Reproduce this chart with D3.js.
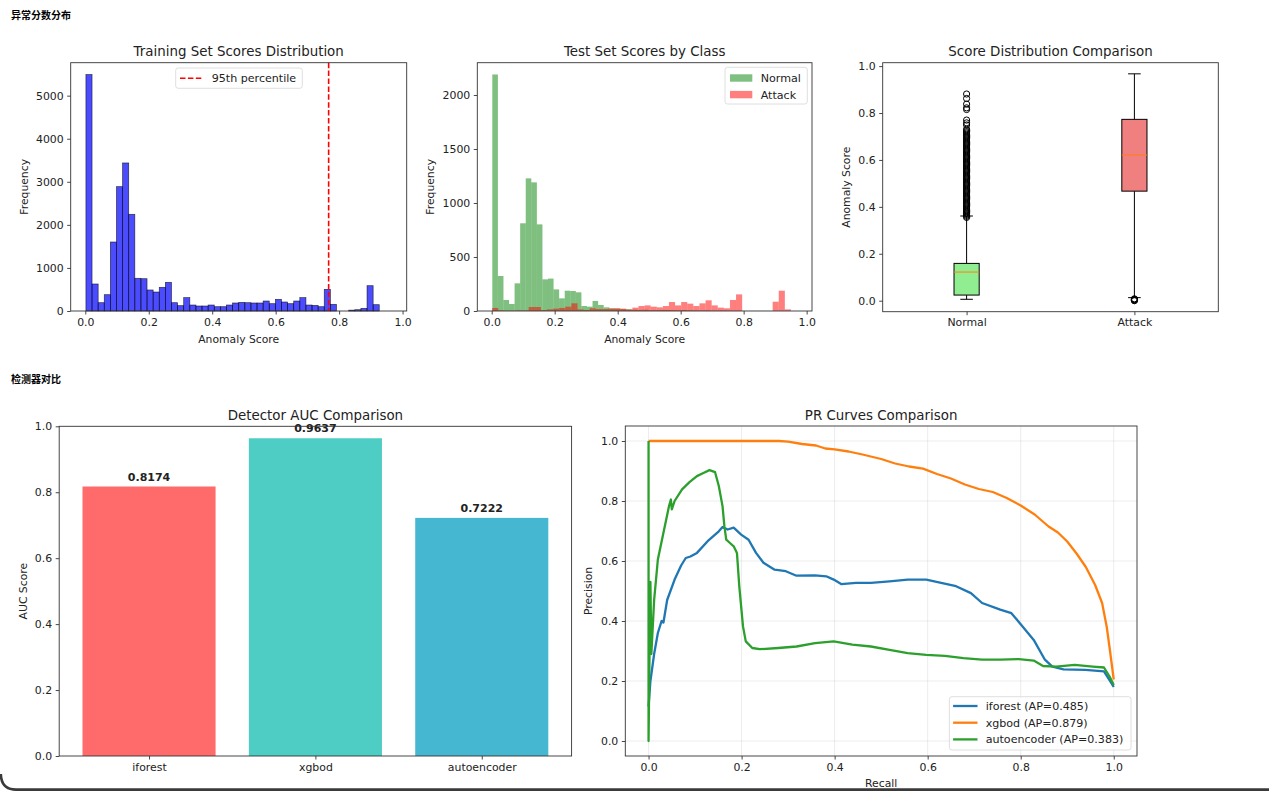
<!DOCTYPE html>
<head>
<meta charset="utf-8">
<title>异常分数分布</title>
<script src="https://d3js.org/d3.v7.min.js"></script>
<style>
    body { margin: 0; background: #fff; }
    svg text { font-family: 'DejaVu Sans', sans-serif; fill: #222; }
    .hdr { font-family: 'Noto Sans CJK SC', sans-serif !important; font-weight: bold; font-size: 10px; fill: #000 !important; }
    .spine { fill: none; stroke: #333; stroke-width: 0.9; }
    .tick line { stroke: #333; stroke-width: 0.9; }
    .domain { display: none; }
</style>
</head>
<body>
<script>
//DATA
var trainRange = [0.002, 0.965];
var trainCounts = [5490, 627, 193, 379, 1602, 2887, 3437, 2245, 759, 750,
                   488, 441, 550, 666, 193, 124, 310, 139, 116, 116,
                   139, 100, 100, 139, 186, 200, 193, 186, 186, 232,
                   170, 271, 209, 170, 232, 310, 139, 131, 100, 503,
                   155, 0, 0, 20, 30, 62, 588, 147, 0, 0];
var pct95 = 0.767;

var normalRange = [0.002, 0.886];
var normalCounts = [2190, 324, 102, 65, 256, 812, 1228, 1191, 802, 293,
                    300, 200, 117, 188, 185, 173, 46, 40, 93, 56,
                    34, 25, 22, 18, 15, 12, 10, 12, 8, 8,
                    10, 9, 7, 6, 8, 6, 5, 4, 5, 3,
                    3, 4, 2, 2, 2, 1, 1, 1, 1, 1];
var attackRange = [0.0013, 0.9695];
var attackCounts = [28, 5, 3, 3, 5, 5, 37, 37, 9, 15,
                    22, 28, 40, 71, 15, 9, 25, 18, 18, 22,
                    25, 22, 15, 31, 46, 52, 40, 34, 46, 83,
                    52, 83, 68, 46, 71, 99, 52, 31, 25, 102,
                    154, 0, 0, 0, 0, 0, 86, 188, 15, 0];

var boxCats = ['Normal', 'Attack'];
var boxLow = [0.006, 0.013];
var boxQ1 = [0.024, 0.467];
var boxMed = [0.122, 0.621];
var boxQ3 = [0.159, 0.773];
var boxHigh = [0.361, 0.967];
var normalFliers = [0.355, 0.36, 0.365, 0.37, 0.375, 0.38, 0.385, 0.39, 0.395, 0.40,
                    0.405, 0.41, 0.415, 0.42, 0.425, 0.43, 0.435, 0.44, 0.445, 0.45,
                    0.455, 0.46, 0.465, 0.47, 0.475, 0.48, 0.485, 0.49, 0.495, 0.50,
                    0.505, 0.51, 0.515, 0.52, 0.525, 0.53, 0.535, 0.54, 0.545, 0.55,
                    0.555, 0.56, 0.565, 0.57, 0.575, 0.58, 0.585, 0.59, 0.595, 0.60,
                    0.605, 0.61, 0.615, 0.62, 0.625, 0.63, 0.635, 0.64, 0.645, 0.65,
                    0.655, 0.66, 0.665, 0.67, 0.675, 0.68, 0.685, 0.69, 0.695, 0.70,
                    0.705, 0.71, 0.715, 0.72, 0.725, 0.731, 0.749, 0.758, 0.770,
                    0.815, 0.822, 0.838, 0.862, 0.881];
var attackFliers = [0.0, 0.002, 0.004, 0.006, 0.008];

var detectors = ['iforest', 'xgbod', 'autoencoder'];
var aucScores = [0.8174, 0.9637, 0.7222];
var apScores = [0.485, 0.879, 0.383];

var iforestPR = [[0,0.115],[0.004,0.2],[0.012,0.29],[0.02,0.36],[0.028,0.40],[0.032,0.395],[0.04,0.47],
    [0.056,0.538],[0.07,0.585],[0.08,0.61],[0.09,0.615],[0.104,0.627],[0.127,0.666],[0.151,0.699],
    [0.159,0.713],[0.17,0.705],[0.183,0.711],[0.199,0.688],[0.215,0.671],[0.231,0.627],[0.247,0.594],
    [0.271,0.571],[0.295,0.566],[0.318,0.551],[0.358,0.552],[0.382,0.549],[0.398,0.538],[0.414,0.523],
    [0.446,0.527],[0.478,0.527],[0.518,0.532],[0.557,0.538],[0.597,0.538],[0.629,0.527],[0.661,0.516],
    [0.693,0.493],[0.717,0.46],[0.756,0.438],[0.78,0.426],[0.804,0.382],[0.828,0.337],[0.852,0.271],
    [0.868,0.248],[0.892,0.239],[0.939,0.237],[0.979,0.232],[0.995,0.193],[1,0.18]];
var xgbodPR = [[0,1.0],[0.28,1.0],[0.30,0.998],[0.33,0.99],[0.36,0.985],[0.38,0.975],[0.40,0.972],
    [0.43,0.965],[0.46,0.955],[0.50,0.94],[0.53,0.925],[0.56,0.915],[0.59,0.908],[0.62,0.89],
    [0.65,0.875],[0.68,0.855],[0.71,0.84],[0.74,0.83],[0.77,0.81],[0.80,0.785],[0.83,0.755],
    [0.86,0.715],[0.88,0.695],[0.90,0.665],[0.92,0.625],[0.94,0.58],[0.96,0.52],[0.975,0.46],
    [0.985,0.38],[0.992,0.3],[1.0,0.205]];
var autoencoderPR = [[0,1.0],[0,0.0],[0.002,0.28],[0.004,0.53],[0.006,0.29],[0.012,0.47],[0.02,0.605],
    [0.032,0.694],[0.044,0.783],[0.048,0.805],[0.05,0.772],[0.056,0.8],[0.072,0.839],[0.088,0.863],
    [0.104,0.883],[0.119,0.894],[0.131,0.903],[0.143,0.896],[0.151,0.85],[0.159,0.783],[0.163,0.716],
    [0.167,0.671],[0.175,0.66],[0.183,0.649],[0.19,0.627],[0.195,0.516],[0.203,0.382],[0.209,0.332],
    [0.223,0.31],[0.239,0.306],[0.279,0.31],[0.318,0.315],[0.358,0.326],[0.398,0.332],[0.438,0.321],
    [0.478,0.315],[0.518,0.304],[0.557,0.293],[0.597,0.287],[0.637,0.284],[0.677,0.276],[0.717,0.271],
    [0.756,0.271],[0.796,0.273],[0.828,0.268],[0.848,0.25],[0.876,0.248],[0.916,0.254],[0.955,0.248],
    [0.979,0.245],[0.991,0.215],[1.0,0.187]];

//STYLE
var barColors = ['#FF6B6B', '#4ECDC4', '#45B7D1'];
var prColors = ['#1f77b4', '#ff7f0e', '#2ca02c'];
var boxFill = ['#90EE90', '#F08080'];
var TICK = 10.9, LAB = 10.8, TTL = 13.4, LEG = 11.1;

//WINDOW
var svg = d3.select('body').append('svg')
    .attr('width', 1269).attr('height', 791);

svg.append('text').attr('class', 'hdr').attr('x', 11).attr('y', 18.5).text('异常分数分布');
svg.append('text').attr('class', 'hdr').attr('x', 11).attr('y', 382.5).text('检测器对比');

// bottom frame edge
svg.append('path').attr('d', 'M0.8,774 Q1.2,789.6 16,789.6 L1269,789.6')
    .attr('fill', 'none').attr('stroke', '#3a3a3a').attr('stroke-width', 2.6);

//HELPERS
function frame(x0, x1, y0, y1) {
    svg.append('rect').attr('class', 'spine')
        .attr('x', x0).attr('y', y0).attr('width', x1 - x0).attr('height', y1 - y0);
}
function xAxis(scale, y, ticks, fmt) {
    var a = d3.axisBottom(scale).tickValues(ticks).tickSize(3.5).tickPadding(3.5).tickSizeOuter(0);
    if (fmt) a.tickFormat(fmt);
    svg.append('g').attr('transform', 'translate(0,' + y + ')').call(a)
        .selectAll('text').style('font-size', TICK + 'px').attr('fill', '#222');
}
function yAxis(scale, x, ticks, fmt) {
    var a = d3.axisLeft(scale).tickValues(ticks).tickSize(3.5).tickPadding(3.5).tickSizeOuter(0);
    if (fmt) a.tickFormat(fmt);
    svg.append('g').attr('transform', 'translate(' + x + ',0)').call(a)
        .selectAll('text').style('font-size', TICK + 'px').attr('fill', '#222');
}
function title(txt, cx, y) {
    svg.append('text').attr('x', cx).attr('y', y).attr('text-anchor', 'middle')
        .style('font-size', TTL + 'px').text(txt);
}
function xLabel(txt, cx, y) {
    svg.append('text').attr('x', cx).attr('y', y).attr('text-anchor', 'middle')
        .style('font-size', LAB + 'px').text(txt);
}
function yLabel(txt, cx, cy) {
    svg.append('text').attr('transform', 'translate(' + cx + ',' + cy + ') rotate(-90)')
        .attr('text-anchor', 'middle').attr('dy', '0.32em')
        .style('font-size', LAB + 'px').text(txt);
}
function legendBox(x, y, w, h) {
    svg.append('rect').attr('x', x).attr('y', y).attr('width', w).attr('height', h).attr('rx', 2.5)
        .attr('fill', '#fff').attr('fill-opacity', 0.8).attr('stroke', '#d5d5d5').attr('stroke-width', 0.8);
}
function hist(counts, range, xs, ys, fill, op, stroke) {
    var w = (range[1] - range[0]) / counts.length;
    svg.append('g').selectAll('rect').data(counts).enter().append('rect')
        .attr('x', (d, i) => xs(range[0] + i * w))
        .attr('width', (d, i) => xs(range[0] + (i + 1) * w) - xs(range[0] + i * w))
        .attr('y', d => ys(d))
        .attr('height', d => ys(0) - ys(d))
        .attr('fill', fill).attr('fill-opacity', op)
        .attr('stroke', stroke ? '#000' : 'none').attr('stroke-opacity', 0.7).attr('stroke-width', 0.7);
}

var unitTicks = [0, 0.2, 0.4, 0.6, 0.8, 1.0];
var f1 = d3.format('.1f');

//PANEL 1 - training histogram
var p1 = {x0: 70.7, x1: 406.7, y0: 62.7, y1: 311};
var x1s = d3.scaleLinear().domain([-0.046, 1.013]).range([p1.x0, p1.x1]);
var y1s = d3.scaleLinear().domain([0, 5765]).range([p1.y1, p1.y0]);
hist(trainCounts, trainRange, x1s, y1s, 'blue', 0.7, true);
svg.append('line').attr('x1', x1s(pct95)).attr('x2', x1s(pct95)).attr('y1', p1.y0).attr('y2', p1.y1)
    .attr('stroke', 'red').attr('stroke-width', 1.6).attr('stroke-dasharray', '5.5,2.4');
frame(p1.x0, p1.x1, p1.y0, p1.y1);
xAxis(x1s, p1.y1, unitTicks, f1);
yAxis(y1s, p1.x0, [0, 1000, 2000, 3000, 4000, 5000], d3.format('d'));
title('Training Set Scores Distribution', (p1.x0 + p1.x1) / 2, 56);
xLabel('Anomaly Score', (p1.x0 + p1.x1) / 2, 343);
yLabel('Frequency', 24.7, (p1.y0 + p1.y1) / 2);
legendBox(175.7, 68, 126.6, 20.3);
svg.append('line').attr('x1', 180).attr('x2', 203.3).attr('y1', 78.3).attr('y2', 78.3)
    .attr('stroke', 'red').attr('stroke-width', 1.6).attr('stroke-dasharray', '5.5,2.4');
svg.append('text').attr('x', 211.7).attr('y', 78.3).attr('dy', '0.36em').style('font-size', LEG + 'px').text('95th percentile');

//PANEL 2 - test histogram by class
var p2 = {x0: 477.3, x1: 812, y0: 62.7, y1: 311};
var x2s = d3.scaleLinear().domain([-0.0457, 1.017]).range([p2.x0, p2.x1]);
var y2s = d3.scaleLinear().domain([0, 2299]).range([p2.y1, p2.y0]);
hist(normalCounts, normalRange, x2s, y2s, 'green', 0.5, false);
hist(attackCounts, attackRange, x2s, y2s, 'red', 0.5, false);
frame(p2.x0, p2.x1, p2.y0, p2.y1);
xAxis(x2s, p2.y1, unitTicks, f1);
yAxis(y2s, p2.x0, [0, 500, 1000, 1500, 2000], d3.format('d'));
title('Test Set Scores by Class', (p2.x0 + p2.x1) / 2, 56);
xLabel('Anomaly Score', (p2.x0 + p2.x1) / 2, 343);
yLabel('Frequency', 431, (p2.y0 + p2.y1) / 2);
legendBox(725, 67.3, 82.3, 36.7);
[['Normal', 'green', 78], ['Attack', 'red', 94.6]].forEach(function(l) {
    svg.append('rect').attr('x', 730).attr('y', l[2] - 3.7).attr('width', 22.3).attr('height', 7.4)
        .attr('fill', l[1]).attr('fill-opacity', 0.5);
    svg.append('text').attr('x', 760.7).attr('y', l[2]).attr('dy', '0.36em').style('font-size', LEG + 'px').text(l[0]);
});

//PANEL 3 - boxplot
var p3 = {x0: 882.7, x1: 1218.3, y0: 62.7, y1: 311.7};
var x3s = d3.scaleLinear().domain([0.5, 2.5]).range([p3.x0, p3.x1]);
var y3s = d3.scaleLinear().domain([-0.0469, 1.0145]).range([p3.y1, p3.y0]);
var bw = 0.15;
var flierSets = [normalFliers, attackFliers];
boxCats.forEach(function(c, i) {
    var pos = i + 1;
    var g = svg.append('g');
    g.append('line').attr('x1', x3s(pos)).attr('x2', x3s(pos)).attr('y1', y3s(boxLow[i])).attr('y2', y3s(boxQ1[i]))
        .attr('stroke', '#000').attr('stroke-width', 1);
    g.append('line').attr('x1', x3s(pos)).attr('x2', x3s(pos)).attr('y1', y3s(boxQ3[i])).attr('y2', y3s(boxHigh[i]))
        .attr('stroke', '#000').attr('stroke-width', 1);
    [boxLow[i], boxHigh[i]].forEach(function(v) {
        g.append('line').attr('x1', x3s(pos - bw / 4)).attr('x2', x3s(pos + bw / 4)).attr('y1', y3s(v)).attr('y2', y3s(v))
            .attr('stroke', '#000').attr('stroke-width', 1);
    });
    g.append('rect').attr('x', x3s(pos - bw / 2)).attr('width', x3s(pos + bw / 2) - x3s(pos - bw / 2))
        .attr('y', y3s(boxQ3[i])).attr('height', y3s(boxQ1[i]) - y3s(boxQ3[i]))
        .attr('fill', boxFill[i]).attr('stroke', '#000').attr('stroke-width', 1);
    g.append('line').attr('x1', x3s(pos - bw / 2)).attr('x2', x3s(pos + bw / 2)).attr('y1', y3s(boxMed[i])).attr('y2', y3s(boxMed[i]))
        .attr('stroke', '#ff7f0e').attr('stroke-width', 1);
    g.selectAll('circle').data(flierSets[i]).enter().append('circle')
        .attr('cx', x3s(pos)).attr('cy', d => y3s(d)).attr('r', 3.1)
        .attr('fill', 'none').attr('stroke', '#000').attr('stroke-width', 1);
});
frame(p3.x0, p3.x1, p3.y0, p3.y1);
xAxis(x3s, p3.y1, [1, 2], (d) => boxCats[d - 1]);
yAxis(y3s, p3.x0, unitTicks, f1);
title('Score Distribution Comparison', (p3.x0 + p3.x1) / 2, 56);
yLabel('Anomaly Score', 846.7, (p3.y0 + p3.y1) / 2);

//PANEL 4 - AUC bars
var p4 = {x0: 59.2, x1: 571.6, y0: 426.3, y1: 756};
var x4s = d3.scaleBand().domain(detectors).range([p4.x0, p4.x1]).paddingInner(0.2).paddingOuter(0.14);
var y4s = d3.scaleLinear().domain([0, 1]).range([p4.y1, p4.y0]);
svg.append('g').selectAll('rect').data(aucScores).enter().append('rect')
    .attr('x', (d, i) => x4s(detectors[i])).attr('width', x4s.bandwidth())
    .attr('y', d => y4s(d)).attr('height', d => y4s(0) - y4s(d))
    .attr('fill', (d, i) => barColors[i]);
svg.append('g').selectAll('text').data(aucScores).enter().append('text')
    .attr('x', (d, i) => x4s(detectors[i]) + x4s.bandwidth() / 2)
    .attr('y', d => y4s(d + 0.01) - 2.6)
    .attr('text-anchor', 'middle').style('font-size', '11px').style('font-weight', 'bold').attr('fill', '#000')
    .text(d => d.toFixed(4));
frame(p4.x0, p4.x1, p4.y0, p4.y1);
var x4c = d3.scalePoint().domain(detectors)
    .range([x4s(detectors[0]) + x4s.bandwidth() / 2, x4s(detectors[2]) + x4s.bandwidth() / 2]);
xAxis(x4c, p4.y1, detectors, null);
yAxis(y4s, p4.x0, unitTicks, f1);
title('Detector AUC Comparison', (p4.x0 + p4.x1) / 2, 420);
yLabel('AUC Score', 23.3, (p4.y0 + p4.y1) / 2);

//PANEL 5 - PR curves
var p5 = {x0: 625.3, x1: 1137, y0: 426, y1: 756};
var x5s = d3.scaleLinear().domain([-0.05, 1.05]).range([p5.x0, p5.x1]);
var y5s = d3.scaleLinear().domain([-0.05, 1.05]).range([p5.y1, p5.y0]);
var grid = svg.append('g');
unitTicks.forEach(function(t) {
    grid.append('line').attr('x1', x5s(t)).attr('x2', x5s(t)).attr('y1', p5.y0).attr('y2', p5.y1);
    grid.append('line').attr('y1', y5s(t)).attr('y2', y5s(t)).attr('x1', p5.x0).attr('x2', p5.x1);
});
grid.selectAll('line').attr('stroke', '#b0b0b0').attr('stroke-opacity', 0.3).attr('stroke-width', 0.8);
var line5 = d3.line().x(d => x5s(d[0])).y(d => y5s(d[1]));
[iforestPR, xgbodPR, autoencoderPR].forEach(function(pts, i) {
    svg.append('path').datum(pts).attr('d', line5).attr('fill', 'none')
        .attr('stroke', prColors[i]).attr('stroke-width', 2.3).attr('stroke-linejoin', 'round');
});
frame(p5.x0, p5.x1, p5.y0, p5.y1);
xAxis(x5s, p5.y1, unitTicks, f1);
yAxis(y5s, p5.x0, unitTicks, f1);
title('PR Curves Comparison', (p5.x0 + p5.x1) / 2, 420);
xLabel('Recall', (p5.x0 + p5.x1) / 2, 787);
yLabel('Precision', 589, (p5.y0 + p5.y1) / 2);
legendBox(949.4, 696.7, 181.6, 53.3);
detectors.forEach(function(d, i) {
    var yy = 706 + i * 16.7;
    svg.append('line').attr('x1', 953.1).attr('x2', 977.5).attr('y1', yy).attr('y2', yy)
        .attr('stroke', prColors[i]).attr('stroke-width', 2.3);
    svg.append('text').attr('x', 985.7).attr('y', yy).attr('dy', '0.36em').style('font-size', LEG + 'px')
        .text(d + ' (AP=' + apScores[i].toFixed(3) + ')');
});
</script>
</body>
